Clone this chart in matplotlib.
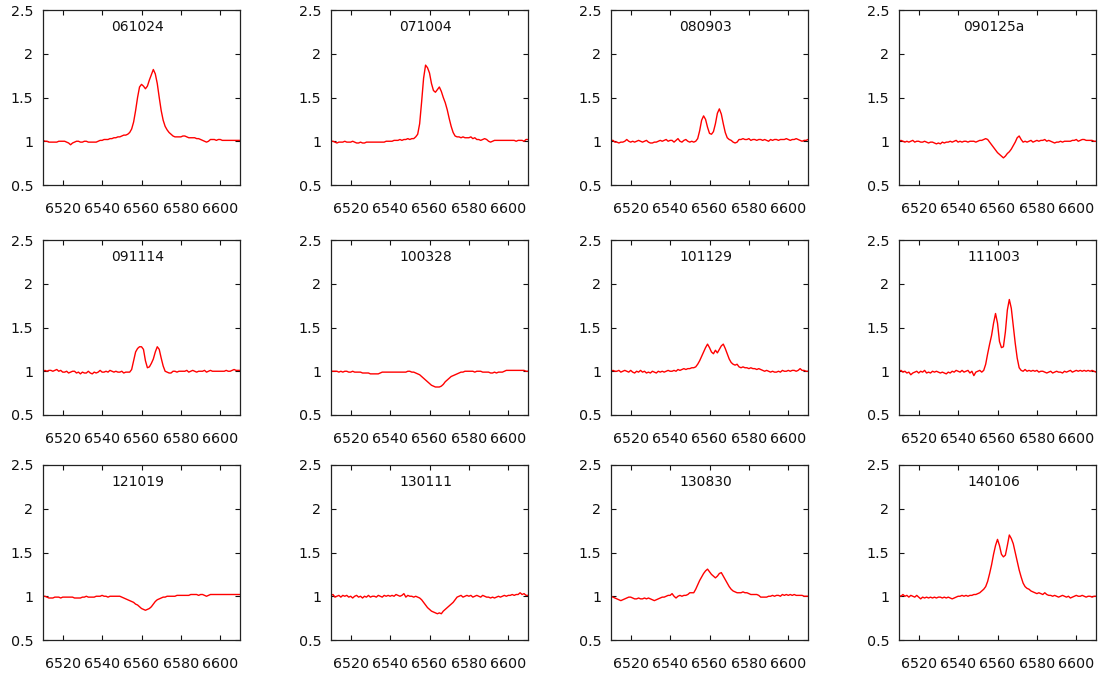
import numpy as np
import matplotlib
matplotlib.use("Agg")
import matplotlib.pyplot as plt
from matplotlib.ticker import FixedLocator, FuncFormatter

# Wavelength grid (Angstrom), shared by all spectra
WAVELENGTH = np.arange(6510, 6611)

OBS_DATES = ["061024", "071004", "080903", "090125a",
             "091114", "100328", "101129", "111003",
             "121019", "130111", "130830", "140106"]

FLUX_061024 = [
    1.01, 1.00, 1.00, 0.99, 0.99, 0.99, 0.99, 0.99, 1.00, 1.00,
    1.00, 1.00, 0.99, 0.98, 0.96, 0.98, 0.99, 1.00, 1.00, 0.99,
    0.99, 1.00, 1.00, 0.99, 0.99, 0.99, 0.99, 0.99, 1.00, 1.01,
    1.01, 1.02, 1.02, 1.02, 1.03, 1.03, 1.04, 1.04, 1.05, 1.05,
    1.06, 1.07, 1.07, 1.08, 1.10, 1.14, 1.22, 1.35, 1.50, 1.62,
    1.65, 1.63, 1.60, 1.63, 1.70, 1.76, 1.82, 1.77, 1.66, 1.50,
    1.35, 1.24, 1.17, 1.13, 1.10, 1.08, 1.06, 1.05, 1.05, 1.05,
    1.05, 1.06, 1.06, 1.05, 1.04, 1.04, 1.04, 1.04, 1.03, 1.03,
    1.02, 1.01, 1.00, 0.99, 1.00, 1.02, 1.02, 1.02, 1.01, 1.02,
    1.02, 1.01, 1.01, 1.01, 1.01, 1.01, 1.01, 1.01, 1.01, 1.01,
    1.01]

FLUX_071004 = [
    1.00, 1.00, 0.99, 0.98, 0.99, 0.99, 0.99, 1.00, 0.99, 0.99,
    0.99, 1.00, 0.99, 0.98, 0.98, 0.99, 0.98, 0.98, 0.99, 0.99,
    0.99, 0.99, 0.99, 0.99, 0.99, 0.99, 0.99, 0.99, 1.00, 1.00,
    1.00, 1.00, 1.01, 1.01, 1.01, 1.02, 1.01, 1.02, 1.02, 1.03,
    1.02, 1.03, 1.03, 1.05, 1.08, 1.20, 1.45, 1.72, 1.87, 1.84,
    1.78, 1.66, 1.58, 1.56, 1.59, 1.62, 1.57, 1.50, 1.44, 1.36,
    1.26, 1.17, 1.10, 1.06, 1.05, 1.05, 1.04, 1.05, 1.04, 1.04,
    1.04, 1.05, 1.03, 1.04, 1.02, 1.02, 1.01, 1.02, 1.03, 1.02,
    1.00, 0.99, 1.00, 1.01, 1.01, 1.01, 1.01, 1.01, 1.01, 1.01,
    1.01, 1.01, 1.01, 1.01, 1.00, 1.01, 1.01, 1.01, 1.00, 1.02,
    1.02]

FLUX_080903 = [
    1.01, 1.01, 0.99, 0.99, 0.98, 0.99, 0.99, 1.00, 1.02, 1.00,
    0.99, 1.00, 0.99, 1.00, 1.01, 1.00, 0.99, 1.00, 1.01, 0.99,
    0.98, 0.98, 0.99, 0.99, 1.00, 1.01, 1.00, 1.01, 1.02, 1.00,
    1.01, 1.01, 0.99, 1.01, 1.03, 1.00, 0.99, 1.01, 1.02, 1.00,
    0.99, 1.00, 0.99, 1.00, 1.03, 1.12, 1.24, 1.29, 1.25, 1.16,
    1.09, 1.08, 1.11, 1.20, 1.32, 1.37, 1.31, 1.20, 1.10, 1.04,
    1.02, 1.01, 0.99, 0.98, 0.99, 1.02, 1.02, 1.03, 1.02, 1.02,
    1.03, 1.01, 1.02, 1.02, 1.01, 1.02, 1.02, 1.01, 1.02, 1.01,
    1.00, 1.02, 1.01, 1.02, 1.02, 1.01, 1.02, 1.02, 1.02, 1.03,
    1.02, 1.01, 1.02, 1.02, 1.03, 1.02, 1.01, 1.00, 1.01, 1.01,
    1.02]

FLUX_090125A = [
    1.00, 1.01, 1.00, 0.99, 1.00, 0.99, 1.00, 1.01, 0.99, 1.00,
    1.00, 0.99, 0.99, 1.00, 0.99, 0.98, 0.99, 0.99, 0.98, 0.97,
    0.98, 0.97, 0.99, 0.98, 0.99, 0.99, 1.00, 0.99, 1.00, 1.01,
    0.99, 1.00, 0.99, 1.00, 1.00, 0.99, 1.00, 1.00, 1.00, 0.99,
    1.00, 1.01, 1.01, 1.02, 1.03, 1.02, 0.99, 0.96, 0.93, 0.90,
    0.87, 0.85, 0.83, 0.81, 0.83, 0.86, 0.88, 0.91, 0.95, 0.99,
    1.04, 1.06, 1.02, 0.99, 1.00, 0.99, 1.00, 1.01, 0.99, 1.00,
    1.01, 1.00, 1.01, 1.01, 1.02, 1.00, 1.01, 1.00, 0.99, 0.98,
    0.99, 0.99, 1.00, 0.99, 1.00, 1.00, 1.00, 1.00, 1.01, 1.01,
    1.02, 1.00, 1.01, 1.02, 1.02, 1.01, 1.01, 1.01, 1.01, 1.00,
    1.00]

FLUX_091114 = [
    1.00, 1.01, 1.00, 1.01, 1.01, 1.00, 1.01, 1.02, 1.00, 1.01,
    0.99, 0.99, 1.00, 0.98, 0.99, 1.00, 1.00, 0.98, 0.99, 0.97,
    0.99, 0.98, 0.98, 1.00, 0.98, 0.97, 0.99, 0.98, 0.99, 1.01,
    0.99, 0.99, 1.00, 0.99, 1.01, 1.00, 0.99, 1.00, 0.99, 0.99,
    1.00, 0.98, 0.99, 0.99, 0.99, 1.02, 1.12, 1.22, 1.26, 1.28,
    1.28, 1.25, 1.12, 1.04, 1.05, 1.09, 1.14, 1.22, 1.28, 1.25,
    1.15, 1.06, 1.00, 0.99, 0.98, 0.98, 1.00, 1.00, 0.99, 1.00,
    1.00, 1.00, 1.00, 1.01, 0.99, 1.00, 1.01, 1.00, 0.99, 1.00,
    1.00, 1.00, 1.01, 0.99, 1.00, 1.01, 1.00, 1.00, 1.00, 1.00,
    1.00, 1.00, 1.00, 1.01, 1.00, 1.00, 1.01, 1.02, 1.01, 1.01,
    1.01]

FLUX_100328 = [
    1.00, 1.00, 1.00, 1.00, 0.99, 1.00, 0.99, 1.00, 1.00, 0.99,
    0.99, 1.00, 0.99, 0.99, 0.99, 0.99, 0.98, 0.98, 0.98, 0.98,
    0.97, 0.97, 0.97, 0.97, 0.97, 0.98, 0.99, 0.99, 0.99, 0.99,
    0.99, 0.99, 0.99, 0.99, 0.99, 0.99, 0.99, 0.99, 0.99, 1.00,
    1.00, 0.99, 0.99, 0.98, 0.97, 0.96, 0.94, 0.92, 0.90, 0.88,
    0.86, 0.84, 0.83, 0.82, 0.82, 0.82, 0.83, 0.85, 0.88, 0.90,
    0.92, 0.94, 0.95, 0.96, 0.97, 0.98, 0.99, 0.99, 1.00, 1.00,
    1.00, 1.00, 1.00, 0.99, 1.00, 1.00, 1.00, 0.99, 0.99, 0.99,
    0.99, 0.98, 0.98, 0.99, 0.98, 0.99, 0.99, 0.99, 1.00, 1.01,
    1.01, 1.01, 1.01, 1.01, 1.01, 1.01, 1.01, 1.01, 1.01, 1.00,
    1.00]

FLUX_101129 = [
    1.00, 1.01, 1.00, 1.00, 1.01, 0.99, 1.00, 1.01, 1.00, 0.99,
    1.01, 0.99, 0.98, 1.00, 0.99, 1.01, 0.99, 1.00, 0.98, 0.99,
    0.98, 1.00, 0.99, 0.98, 1.00, 0.99, 1.00, 0.99, 1.00, 1.01,
    1.00, 1.00, 1.01, 1.00, 1.02, 1.01, 1.02, 1.03, 1.02, 1.03,
    1.03, 1.04, 1.04, 1.05, 1.08, 1.12, 1.17, 1.22, 1.27, 1.31,
    1.27, 1.22, 1.20, 1.24, 1.21, 1.25, 1.29, 1.31, 1.26, 1.20,
    1.14, 1.10, 1.08, 1.07, 1.08, 1.05, 1.04, 1.05, 1.04, 1.04,
    1.03, 1.04, 1.03, 1.03, 1.02, 1.03, 1.02, 1.01, 1.00, 1.01,
    1.00, 0.99, 1.00, 0.99, 0.99, 1.00, 0.99, 1.01, 1.00, 1.00,
    1.01, 1.00, 1.01, 1.01, 1.00, 1.01, 1.03, 1.01, 1.01, 1.00,
    1.00]

FLUX_111003 = [
    1.00, 1.01, 0.99, 1.00, 0.98, 0.99, 0.96, 0.98, 0.99, 1.00,
    0.98, 1.00, 0.99, 1.01, 0.98, 0.99, 0.98, 1.00, 0.99, 1.00,
    0.99, 0.98, 0.99, 0.98, 0.97, 0.99, 0.98, 1.00, 0.99, 1.01,
    1.00, 0.99, 1.01, 0.99, 1.00, 1.01, 0.98, 1.00, 0.95, 0.99,
    1.00, 1.01, 0.99, 1.01, 1.08, 1.20, 1.31, 1.41, 1.55, 1.66,
    1.55, 1.34, 1.27, 1.28, 1.45, 1.70, 1.82, 1.72, 1.52, 1.32,
    1.15, 1.04, 1.01, 1.00, 1.02, 1.00, 1.01, 1.00, 1.01, 1.00,
    1.01, 0.99, 1.00, 1.00, 0.99, 0.98, 0.99, 1.00, 0.98, 0.99,
    1.00, 0.99, 0.99, 0.98, 1.00, 0.99, 1.00, 1.01, 0.99, 1.00,
    1.01, 1.00, 1.01, 1.00, 1.01, 1.00, 1.01, 1.00, 1.01, 1.00,
    0.99]

FLUX_121019 = [
    1.00, 1.00, 0.99, 0.98, 0.98, 0.98, 0.99, 0.99, 0.99, 0.98,
    0.99, 0.99, 0.99, 0.99, 0.99, 0.99, 0.98, 0.98, 0.98, 0.98,
    0.99, 0.99, 1.00, 0.99, 0.99, 0.99, 0.99, 1.00, 1.00, 1.00,
    1.01, 1.00, 1.00, 0.99, 1.00, 1.00, 1.00, 1.00, 1.00, 1.00,
    0.99, 0.98, 0.97, 0.96, 0.95, 0.94, 0.93, 0.91, 0.90, 0.88,
    0.86, 0.85, 0.84, 0.85, 0.86, 0.88, 0.91, 0.94, 0.96, 0.97,
    0.98, 0.99, 0.99, 1.00, 1.00, 1.00, 1.00, 1.00, 1.01, 1.01,
    1.01, 1.01, 1.01, 1.01, 1.01, 1.02, 1.02, 1.02, 1.02, 1.01,
    1.02, 1.02, 1.01, 1.00, 1.01, 1.02, 1.02, 1.02, 1.02, 1.02,
    1.02, 1.02, 1.02, 1.02, 1.02, 1.02, 1.02, 1.02, 1.02, 1.02,
    1.02]

FLUX_130111 = [
    1.01, 1.02, 0.99, 1.00, 1.01, 0.99, 1.01, 1.00, 1.01, 0.99,
    1.00, 0.98, 1.00, 1.01, 0.99, 1.00, 0.98, 1.00, 0.99, 1.01,
    0.99, 1.00, 1.00, 0.99, 1.01, 1.00, 0.99, 1.01, 1.00, 1.01,
    1.00, 1.01, 1.00, 1.02, 1.01, 1.00, 1.01, 1.03, 0.99, 1.01,
    1.00, 1.00, 0.99, 1.00, 0.99, 0.98, 0.96, 0.93, 0.90, 0.87,
    0.85, 0.83, 0.82, 0.81, 0.80, 0.81, 0.80, 0.83, 0.85, 0.87,
    0.89, 0.91, 0.93, 0.96, 0.99, 1.00, 1.01, 0.99, 1.00, 1.01,
    1.00, 1.01, 0.99, 1.00, 1.01, 1.00, 0.99, 1.01, 1.00, 0.99,
    0.99, 0.98, 0.99, 0.98, 0.99, 1.00, 0.99, 1.00, 1.01, 1.00,
    1.01, 1.01, 1.02, 1.01, 1.02, 1.02, 1.04, 1.02, 1.03, 1.01,
    1.01]

FLUX_130830 = [
    1.00, 0.99, 0.98, 0.97, 0.96, 0.95, 0.96, 0.97, 0.98, 0.99,
    0.99, 0.98, 0.97, 0.97, 0.98, 0.97, 0.97, 0.98, 0.97, 0.98,
    0.97, 0.96, 0.95, 0.96, 0.97, 0.98, 0.99, 0.99, 1.00, 1.01,
    1.01, 1.03, 1.00, 0.98, 1.00, 1.01, 1.00, 1.01, 1.01, 1.02,
    1.04, 1.04, 1.04, 1.08, 1.13, 1.18, 1.22, 1.26, 1.29, 1.31,
    1.28, 1.25, 1.23, 1.21, 1.23, 1.26, 1.27, 1.23, 1.19, 1.15,
    1.11, 1.08, 1.06, 1.05, 1.04, 1.04, 1.04, 1.05, 1.04, 1.04,
    1.03, 1.02, 1.02, 1.02, 1.02, 1.01, 0.99, 0.99, 0.99, 0.99,
    1.00, 1.00, 1.01, 1.00, 1.01, 1.01, 1.00, 1.02, 1.01, 1.02,
    1.01, 1.02, 1.01, 1.02, 1.01, 1.01, 1.01, 1.01, 1.00, 1.00,
    1.00]

FLUX_140106 = [
    1.01, 1.00, 1.02, 1.00, 1.01, 0.99, 1.01, 1.00, 0.99, 1.01,
    0.99, 0.97, 0.99, 0.98, 0.99, 0.98, 0.99, 0.98, 0.99, 0.98,
    0.99, 0.99, 0.98, 0.99, 0.98, 0.99, 0.98, 0.97, 0.98, 0.99,
    1.00, 1.00, 1.01, 1.00, 1.01, 1.00, 1.01, 1.01, 1.02, 1.02,
    1.03, 1.04, 1.06, 1.08, 1.11, 1.17, 1.26, 1.36, 1.48, 1.58,
    1.65, 1.58, 1.48, 1.45, 1.47, 1.58, 1.70, 1.66, 1.60, 1.50,
    1.40, 1.30, 1.22, 1.15, 1.11, 1.09, 1.08, 1.06, 1.05, 1.04,
    1.03, 1.04, 1.03, 1.02, 1.04, 1.02, 1.01, 1.01, 1.00, 1.01,
    1.00, 0.99, 1.00, 1.01, 1.00, 0.99, 1.00, 0.98, 0.99, 1.00,
    1.01, 1.00, 1.00, 1.01, 1.00, 0.99, 1.00, 1.00, 0.99, 1.00,
    1.00]

SPECTRA = [FLUX_061024, FLUX_071004, FLUX_080903, FLUX_090125A,
           FLUX_091114, FLUX_100328, FLUX_101129, FLUX_111003,
           FLUX_121019, FLUX_130111, FLUX_130830, FLUX_140106]

X_TICKS = [6520, 6540, 6560, 6580, 6600]
Y_TICKS = [0.5, 1.0, 1.5, 2.0, 2.5]

# Panel grid layout in pixels
FIG_W, FIG_H = 1106, 675
COL_LEFT = [43, 331, 611, 899]
ROW_TOP = [10, 240, 465]
PANEL_W, PANEL_H = 197, 175

fig = plt.figure(figsize=(FIG_W / 100, FIG_H / 100), dpi=100)
fig.patch.set_facecolor("white")

for i, (name, flux) in enumerate(zip(OBS_DATES, SPECTRA)):
    r, c = divmod(i, 4)
    left = COL_LEFT[c] / FIG_W
    bottom = 1 - (ROW_TOP[r] + PANEL_H) / FIG_H
    ax = fig.add_axes([left, bottom, PANEL_W / FIG_W, PANEL_H / FIG_H])
    ax.plot(WAVELENGTH, flux, color="#ff0000", lw=1.0)
    ax.set_xlim(6510, 6610)
    ax.set_ylim(0.5, 2.5)
    ax.xaxis.set_major_locator(FixedLocator(X_TICKS))
    ax.yaxis.set_major_locator(FixedLocator(Y_TICKS))
    ax.yaxis.set_major_formatter(FuncFormatter(lambda v, p: f"{v:g}"))
    ax.tick_params(axis="both", direction="in", length=3.5, width=0.8,
                   top=True, right=True, labelsize=10.3, colors="#111111")
    ax.tick_params(axis="x", pad=12)
    ax.tick_params(axis="y", pad=7)
    for s in ax.spines.values():
        s.set_linewidth(0.9)
        s.set_color("#222222")
    ax.text(0.48, 0.905, name, transform=ax.transAxes, ha="center",
            va="center", fontsize=10, color="#111111")

fig.savefig("out.png", dpi=100, facecolor="white")
